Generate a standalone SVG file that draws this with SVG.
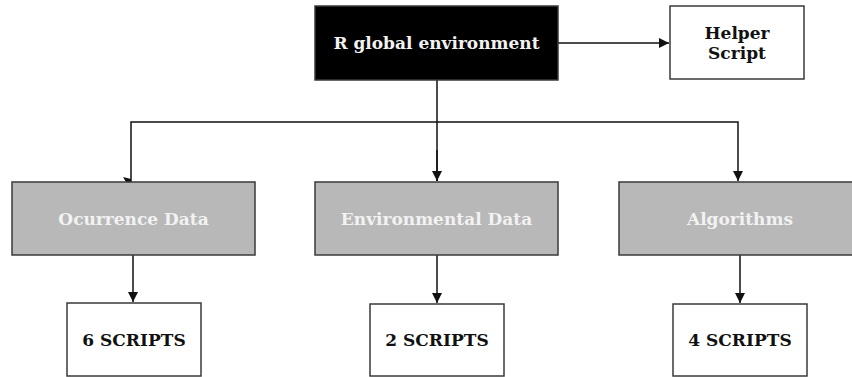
<svg xmlns="http://www.w3.org/2000/svg" width="852" height="377" viewBox="0 0 852 377">
  <style>
    .box { stroke: #3a3a3a; stroke-width: 1.5; }
    .white { fill: #ffffff; }
    .dark { fill: #000000; }
    .grey { fill: #b8b8b8; }
    .label { font-family: "DejaVu Serif", serif; font-weight: bold; font-size: 17px; text-anchor: middle; dominant-baseline: central; }
    .light { fill: #f2f2f2; }
    .ink { fill: #111111; }
    .edge { fill: none; stroke: #111111; stroke-width: 1.5; }
  </style>
  <defs>
    <marker id="arrow" viewBox="0 0 10 10" refX="10" refY="5" markerWidth="10" markerHeight="10" markerUnits="userSpaceOnUse" orient="auto">
      <path d="M0,0 L10,5 L0,10 z" fill="#111111"/>
    </marker>
  </defs>

  <g id="connectors">
    <line class="edge" x1="558" y1="43" x2="669" y2="43" stroke="#555555" marker-end="url(#arrow)"/>
    <polyline class="edge" points="437,80 437,181"/>
    <polyline class="edge" points="437,122 131,122 131,182"/>
    <polyline class="edge" points="437,122 738,122 738,181" marker-end="url(#arrow)"/>
    <line class="edge" x1="437" y1="150" x2="437" y2="181" marker-end="url(#arrow)"/>
    <polygon points="123,177 131,179 131,182 126,182" fill="#111111"/>
    <line class="edge" x1="133" y1="255" x2="133" y2="302" marker-end="url(#arrow)"/>
    <line class="edge" x1="437" y1="255" x2="437" y2="303" marker-end="url(#arrow)"/>
    <line class="edge" x1="740" y1="255" x2="740" y2="303" marker-end="url(#arrow)"/>
  </g>

  <g id="r-global">
    <rect class="box dark" x="315" y="6" width="243" height="74"/>
    <text class="label light" x="436.5" y="43">R global environment</text>
  </g>

  <g id="helper-script">
    <rect class="box white" x="670" y="6" width="134" height="73"/>
    <text class="label ink" x="737" y="33">Helper</text>
    <text class="label ink" x="737" y="53">Script</text>
  </g>

  <g id="ocurrence-data">
    <rect class="box grey" x="12" y="182" width="243" height="73"/>
    <text class="label light" x="133.5" y="218.5">Ocurrence Data</text>
  </g>

  <g id="environmental-data">
    <rect class="box grey" x="315" y="182" width="243" height="73"/>
    <text class="label light" x="436.5" y="218.5">Environmental Data</text>
  </g>

  <g id="algorithms">
    <rect class="box grey" x="619" y="182" width="243" height="73"/>
    <text class="label light" x="740" y="218.5">Algorithms</text>
  </g>

  <g id="six-scripts">
    <rect class="box white" x="67" y="303" width="134" height="73"/>
    <text class="label ink" x="134" y="340">6 SCRIPTS</text>
  </g>

  <g id="two-scripts">
    <rect class="box white" x="370" y="304" width="134" height="72"/>
    <text class="label ink" x="437" y="340">2 SCRIPTS</text>
  </g>

  <g id="four-scripts">
    <rect class="box white" x="673" y="304" width="134" height="72"/>
    <text class="label ink" x="740" y="340">4 SCRIPTS</text>
  </g>
</svg>
